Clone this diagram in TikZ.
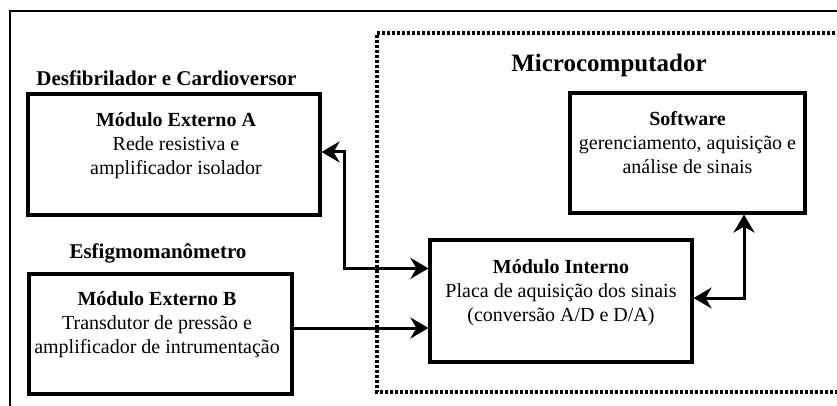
\documentclass[tikz,border=0pt]{standalone}
\usepackage{fontspec}
\setmainfont{Liberation Serif}
\usetikzlibrary{arrows.meta,calc}
\begin{document}
\begin{tikzpicture}[x=1pt,y=-1pt,
  blockbox/.style={draw,line width=3.2pt,rectangle,inner sep=0pt},
  txt/.style={align=center,inner sep=0pt,font=\fontsize{20pt}{24pt}\selectfont},
  ttl/.style={inner sep=0pt,font=\fontsize{21pt}{24pt}\selectfont\bfseries},
  tip/.tip={Stealth[length=18pt,width=21pt,inset=6pt]},
  conn/.style={line width=3pt,arrows={-tip}},
  conn2/.style={line width=3pt,arrows={tip-tip}},
  dotbox/.style={line width=3.2pt,dash pattern=on 3pt off 2pt}]
\useasboundingbox (0,0) rectangle (837,406);
\clip (0,0) rectangle (837,406);
% outer frame (partly outside the picture)
\draw[line width=1.4pt] (10,11) rectangle (860,430);
% microcomputer dotted frame
\draw[dotbox] (860,33) -- (377,33) -- (377,392) -- (860,392);
\node[ttl,font=\fontsize{25pt}{28pt}\selectfont\bfseries] (micro) at (609,65) {Microcomputador};
% blocks
\node[blockbox,minimum width=292pt,minimum height=121pt] (boxA) at (174,154.5) {};
\node[blockbox,minimum width=263pt,minimum height=120pt] (boxB) at (160.5,334) {};
\node[blockbox,minimum width=262pt,minimum height=122pt] (interno) at (561,301) {};
\node[blockbox,minimum width=235pt,minimum height=120pt] (software) at (687.5,153) {};
% titles
\node[ttl] (tA) at (166.5,78) {Desfibrilador e Cardioversor};
\node[ttl] (tB) at (158,253) {Esfigmomanômetro};
% texts
\node[txt] (xA) at (176,146) {\textbf{Módulo Externo A}\\Rede resistiva e\\amplificador isolador};
\node[txt] (xB) at (157,325) {\textbf{Módulo Externo B}\\Transdutor de pressão e\\amplificador de intrumentação};
\node[txt] (xI) at (561,292.5) {\textbf{Módulo Interno}\\Placa de aquisição dos sinais\\(conversão A/D e D/A)};
\node[txt] (xS) at (687.5,143) {\textbf{Software}\\gerenciamento, aquisição e\\análise de sinais};
% connectors
\coordinate (aOut) at ([yshift=2.5pt]boxA.east);
\coordinate (inA) at ([yshift=-30pt]interno.north west);
\draw[conn2] (aOut) -- ++(23,0) |- (inA);
\coordinate (bOut) at ([yshift=6pt]boxB.east);
\draw[conn] (bOut) -- (bOut -| interno.west);
\coordinate (iOut) at ([yshift=3pt]interno.east);
\coordinate (sIn) at ([xshift=56.5pt]software.south);
\draw[conn2] (iOut) -| (sIn);
\end{tikzpicture}
\end{document}
